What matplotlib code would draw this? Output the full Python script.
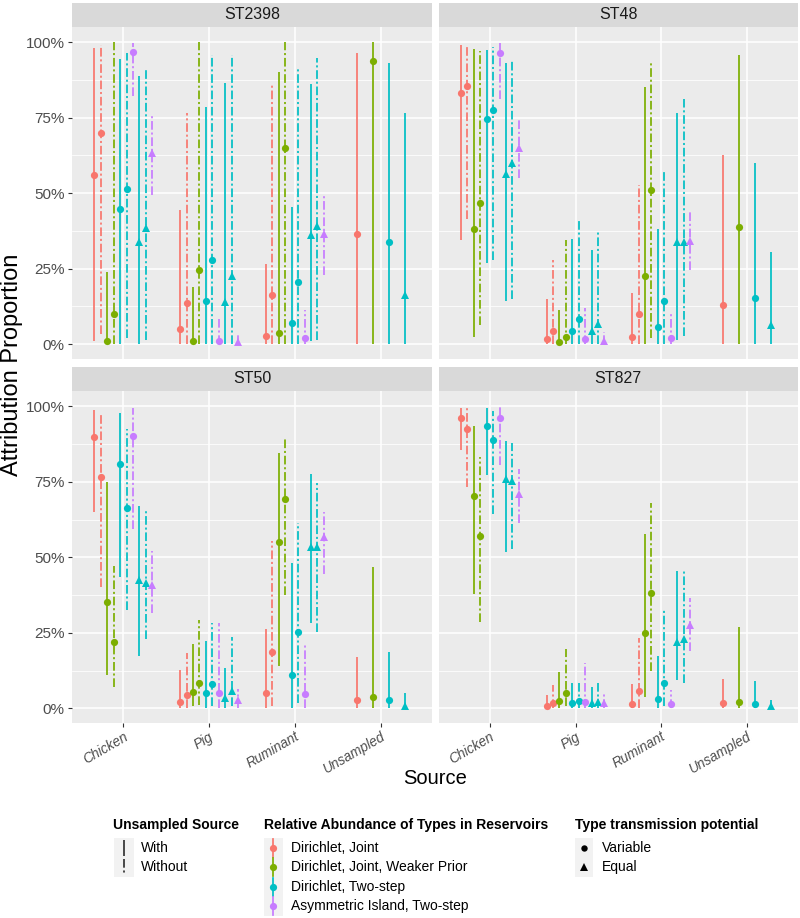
import numpy as np
import matplotlib
matplotlib.use("Agg")
import matplotlib.pyplot as plt
from matplotlib.patches import Rectangle

plt.rcParams['font.family'] = ['Liberation Sans', 'DejaVu Sans']

# Categories / legend entries
SOURCES = ['Chicken', 'Pig', 'Ruminant', 'Unsampled']
PANELS = ['ST2398', 'ST48', 'ST50', 'ST827']
MODELS = ['Dirichlet, Joint', 'Dirichlet, Joint, Weaker Prior',
          'Dirichlet, Two-step', 'Asymmetric Island, Two-step']
COLORS = ['#F8766D', '#7CAE00', '#00BFC4', '#C77CFF']

# order of the dodged series inside Chicken / Pig / Ruminant
SERIES_MODEL = [0, 0, 1, 1, 2, 2, 3, 2, 2, 3]
SERIES_UNSAMPLED = ['With', 'Without', 'With', 'Without', 'With', 'Without',
                    'Without', 'With', 'Without', 'Without']
SERIES_POTENTIAL = ['Variable'] * 7 + ['Equal'] * 3
# order of the series inside Unsampled (all "With")
UNS_MODEL = [0, 1, 2, 2]
UNS_POTENTIAL = ['Variable', 'Variable', 'Variable', 'Equal']

# ---- ST2398 (rows: Chicken, Pig, Ruminant) ----
ST2398_EST = [[0.559, 0.700, 0.011, 0.100, 0.446, 0.514, 0.967, 0.339, 0.385, 0.632],
              [0.049, 0.135, 0.011, 0.245, 0.144, 0.278, 0.011, 0.140, 0.227, 0.008],
              [0.027, 0.162, 0.035, 0.651, 0.069, 0.206, 0.021, 0.361, 0.392, 0.365]]
ST2398_LO = [[0.011, 0.033, 0.0, 0.0, 0.0, 0.019, 0.823, 0.0, 0.013, 0.495],
             [0.0, 0.0, 0.0, 0.0, 0.0, 0.0, 0.0, 0.0, 0.0, 0.0],
             [0.0, 0.0, 0.0, 0.0, 0.0, 0.0, 0.0, 0.011, 0.013, 0.229]]
ST2398_HI = [[0.980, 0.991, 0.239, 1.000, 0.944, 0.963, 0.997, 0.889, 0.908, 0.759],
             [0.444, 0.765, 0.190, 1.000, 0.787, 0.958, 0.085, 0.866, 0.958, 0.035],
             [0.264, 0.864, 0.900, 1.000, 0.455, 0.910, 0.113, 0.862, 0.949, 0.497]]
ST2398_UNS_EST = [0.365, 0.938, 0.339, 0.162]
ST2398_UNS_LO = [0.0, 0.0, 0.0, 0.0]
ST2398_UNS_HI = [0.964, 1.000, 0.933, 0.765]

# ---- ST48 ----
ST48_EST = [[0.833, 0.855, 0.380, 0.467, 0.746, 0.775, 0.965, 0.564, 0.601, 0.651],
            [0.017, 0.043, 0.006, 0.022, 0.043, 0.082, 0.017, 0.043, 0.066, 0.011],
            [0.022, 0.100, 0.225, 0.510, 0.057, 0.144, 0.019, 0.337, 0.337, 0.343]]
ST48_LO = [[0.345, 0.414, 0.024, 0.063, 0.267, 0.278, 0.811, 0.143, 0.148, 0.549],
           [0.0, 0.0, 0.0, 0.0, 0.0, 0.0, 0.0, 0.0, 0.0, 0.0],
           [0.0, 0.0, 0.0, 0.019, 0.0, 0.0, 0.0, 0.013, 0.027, 0.245]]
ST48_HI = [[0.991, 0.991, 0.978, 0.972, 0.975, 0.986, 0.997, 0.930, 0.939, 0.746],
           [0.150, 0.278, 0.113, 0.345, 0.347, 0.409, 0.118, 0.312, 0.378, 0.041],
           [0.168, 0.527, 0.853, 0.930, 0.381, 0.577, 0.102, 0.765, 0.811, 0.439]]
ST48_UNS_EST = [0.128, 0.387, 0.151, 0.063]
ST48_UNS_LO = [0.0, 0.0, 0.0, 0.0]
ST48_UNS_HI = [0.627, 0.958, 0.599, 0.306]

# ---- ST50 ----
ST50_EST = [[0.897, 0.766, 0.353, 0.221, 0.808, 0.664, 0.903, 0.425, 0.414, 0.407],
            [0.022, 0.045, 0.055, 0.083, 0.050, 0.079, 0.050, 0.035, 0.057, 0.028],
            [0.050, 0.188, 0.552, 0.693, 0.110, 0.253, 0.046, 0.535, 0.535, 0.568]]
ST50_LO = [[0.651, 0.401, 0.110, 0.072, 0.434, 0.326, 0.593, 0.173, 0.228, 0.315],
           [0.0, 0.0, 0.006, 0.011, 0.0, 0.006, 0.0, 0.0, 0.006, 0.0],
           [0.0, 0.006, 0.141, 0.375, 0.0, 0.017, 0.0, 0.281, 0.254, 0.445]]
ST50_HI = [[0.988, 0.977, 0.748, 0.471, 0.977, 0.924, 0.993, 0.671, 0.657, 0.521],
           [0.127, 0.184, 0.212, 0.292, 0.224, 0.284, 0.281, 0.132, 0.237, 0.063],
           [0.262, 0.554, 0.847, 0.891, 0.480, 0.615, 0.210, 0.776, 0.747, 0.651]]
ST50_UNS_EST = [0.028, 0.036, 0.028, 0.008]
ST50_UNS_LO = [0.0, 0.0, 0.0, 0.0]
ST50_UNS_HI = [0.171, 0.469, 0.185, 0.052]

# ---- ST827 ----
ST827_EST = [[0.962, 0.925, 0.703, 0.571, 0.936, 0.889, 0.962, 0.759, 0.754, 0.709],
             [0.008, 0.017, 0.025, 0.050, 0.017, 0.025, 0.022, 0.017, 0.022, 0.017],
             [0.013, 0.057, 0.248, 0.381, 0.031, 0.085, 0.013, 0.221, 0.228, 0.276]]
ST827_LO = [[0.855, 0.734, 0.377, 0.285, 0.773, 0.642, 0.804, 0.519, 0.527, 0.615],
            [0.0, 0.0, 0.0, 0.006, 0.0, 0.0, 0.0, 0.0, 0.0, 0.0],
            [0.0, 0.0, 0.036, 0.124, 0.0, 0.006, 0.0, 0.094, 0.085, 0.190]]
ST827_HI = [[0.993, 0.993, 0.935, 0.833, 0.993, 0.986, 0.997, 0.885, 0.880, 0.792],
            [0.044, 0.077, 0.119, 0.196, 0.083, 0.085, 0.149, 0.070, 0.085, 0.052],
            [0.079, 0.234, 0.576, 0.681, 0.174, 0.328, 0.061, 0.456, 0.460, 0.364]]
ST827_UNS_EST = [0.017, 0.020, 0.014, 0.006]
ST827_UNS_LO = [0.0, 0.0, 0.0, 0.0]
ST827_UNS_HI = [0.096, 0.270, 0.092, 0.028]

panel_data = {
    'ST2398': (ST2398_EST, ST2398_LO, ST2398_HI, ST2398_UNS_EST, ST2398_UNS_LO, ST2398_UNS_HI),
    'ST48': (ST48_EST, ST48_LO, ST48_HI, ST48_UNS_EST, ST48_UNS_LO, ST48_UNS_HI),
    'ST50': (ST50_EST, ST50_LO, ST50_HI, ST50_UNS_EST, ST50_UNS_LO, ST50_UNS_HI),
    'ST827': (ST827_EST, ST827_LO, ST827_HI, ST827_UNS_EST, ST827_UNS_LO, ST827_UNS_HI),
}

# styles
LINESTYLE = {'With': '-', 'Without': (0, (5, 1.6, 1.2, 1.6))}
MARKER = {'Variable': 'o', 'Equal': '^'}
MSIZE = {'Variable': 5.2, 'Equal': 6.0}
LW = 1.25
DODGE = 0.75
TEXT_GRAY = '#4D4D4D'

W, H = 800, 918
fig = plt.figure(figsize=(W / 100, H / 100), dpi=100)


def px_box(x0, y0, x1, y1):
    # pixel box (top-left origin) -> figure fraction rect
    return [x0 / W, 1 - y1 / H, (x1 - x0) / W, (y1 - y0) / H]


col_x = [(71.8, 432.2), (438.6, 798.0)]
row_y = [(27.2, 359.1), (391.2, 723.4)]
STRIP_H = 24.5


def draw_range(ax, x, est, lo, hi, color, ls, marker, ms):
    ax.plot([x, x], [lo, hi], color=color, lw=LW, linestyle=ls,
            solid_capstyle='butt', dash_capstyle='butt', zorder=3)
    ax.plot([x], [est], marker=marker, ms=ms, color=color,
            markeredgewidth=0, linestyle='none', zorder=4)


for pi, name in enumerate(PANELS):
    r, c = divmod(pi, 2)
    x0, x1 = col_x[c]
    y0, y1 = row_y[r]
    ax = fig.add_axes(px_box(x0, y0, x1, y1))
    ax.set_facecolor('#EBEBEB')
    for sp in ax.spines.values():
        sp.set_visible(False)

    est, lo, hi, uest, ulo, uhi = panel_data[name]
    n = len(SERIES_MODEL)
    for ci in range(3):
        for s in range(n):
            x = ci + (s - (n - 1) / 2) * DODGE / n
            draw_range(ax, x, est[ci][s], lo[ci][s], hi[ci][s],
                       COLORS[SERIES_MODEL[s]], LINESTYLE[SERIES_UNSAMPLED[s]],
                       MARKER[SERIES_POTENTIAL[s]], MSIZE[SERIES_POTENTIAL[s]])
    m = len(UNS_MODEL)
    for s in range(m):
        x = 3 + (s - (m - 1) / 2) * DODGE / m
        draw_range(ax, x, uest[s], ulo[s], uhi[s], COLORS[UNS_MODEL[s]],
                   LINESTYLE['With'], MARKER[UNS_POTENTIAL[s]], MSIZE[UNS_POTENTIAL[s]])

    ax.set_xlim(-0.6, 3.6)
    ax.set_ylim(-0.05, 1.05)
    ax.set_xticks(range(len(SOURCES)))
    ax.set_yticks([0, 0.25, 0.5, 0.75, 1.0])
    ax.set_yticks([0.125, 0.375, 0.625, 0.875], minor=True)
    ax.grid(which='major', color='white', lw=1.1)
    ax.grid(which='minor', axis='y', color='white', lw=0.55)
    ax.set_axisbelow(True)
    ax.tick_params(which='minor', length=0)
    ax.tick_params(which='major', length=3, width=0.8, color='#333333', labelsize=11,
                   labelcolor=TEXT_GRAY, pad=2)
    if c == 0:
        ax.set_yticklabels(['0%', '25%', '50%', '75%', '100%'])
    else:
        ax.tick_params(axis='y', length=0, labelleft=False)
    if r == 1:
        ax.set_xticklabels(SOURCES, rotation=30, ha='right', va='top',
                           rotation_mode='anchor', style='italic', fontsize=9.8)
        ax.tick_params(axis='x', pad=1.5)
    else:
        ax.tick_params(axis='x', length=0, labelbottom=False)

    # facet strip
    sax = fig.add_axes(px_box(x0, y0 - STRIP_H, x1, y0))
    sax.set_facecolor('#D9D9D9')
    sax.set_xticks([])
    sax.set_yticks([])
    for sp in sax.spines.values():
        sp.set_visible(False)
    sax.text(0.5, 0.5, name, ha='center', va='center', fontsize=11.5,
             color='#1A1A1A', transform=sax.transAxes)

# axis titles
fig.text(435 / W, 1 - 778 / H, 'Source', ha='center', va='center', fontsize=14.5)
fig.text(12 / W, 1 - 365 / H, 'Attribution Proportion', ha='center', va='center',
         rotation=90, fontsize=17)

# legends, drawn in a pixel overlay
lax = fig.add_axes([0, 0, 1, 1], facecolor='none')
lax.set_xlim(0, W)
lax.set_ylim(H, 0)
lax.axis('off')

TITLE_Y = 824.5
ROW_Y = [847.7, 867.2, 886.7, 906.2]
KEY_H = 19.5

# Unsampled Source
lax.text(113, TITLE_Y, 'Unsampled Source', fontsize=10, fontweight='bold', va='center')
lax.add_patch(Rectangle((113.5, ROW_Y[0] - KEY_H / 2), 20, 2 * KEY_H, color='#F2F2F2', lw=0))
for i, lab in enumerate(['With', 'Without']):
    lax.plot([123.5, 123.5], [ROW_Y[i] - 8, ROW_Y[i] + 8], color='#333333', lw=LW,
             linestyle=LINESTYLE[lab], solid_capstyle='butt')
    lax.text(140.5, ROW_Y[i], lab, fontsize=10, va='center')

# Relative Abundance
lax.text(264, TITLE_Y, 'Relative Abundance of Types in Reservoirs', fontsize=10,
         fontweight='bold', va='center')
lax.add_patch(Rectangle((264, ROW_Y[0] - KEY_H / 2), 18.5, 4 * KEY_H, color='#F2F2F2', lw=0))
for i, lab in enumerate(MODELS):
    lax.plot([273.2, 273.2], [ROW_Y[i] - 9, ROW_Y[i] + 9], color=COLORS[i], lw=LW)
    lax.plot([273.2], [ROW_Y[i]], marker='o', ms=5.2, color=COLORS[i], markeredgewidth=0)
    lax.text(291, ROW_Y[i], lab, fontsize=10, va='center')

# Type transmission potential
lax.text(575, TITLE_Y, 'Type transmission potential', fontsize=10, fontweight='bold',
         va='center')
lax.add_patch(Rectangle((574.5, ROW_Y[0] - KEY_H / 2), 18.5, 2 * KEY_H, color='#F2F2F2', lw=0))
for i, lab in enumerate(['Variable', 'Equal']):
    lax.plot([583.5], [ROW_Y[i]], marker=MARKER[lab], ms=MSIZE[lab] - 0.6, color='black',
             markeredgewidth=0)
    lax.text(602, ROW_Y[i], lab, fontsize=10, va='center')

fig.savefig('out.png', dpi=100)
